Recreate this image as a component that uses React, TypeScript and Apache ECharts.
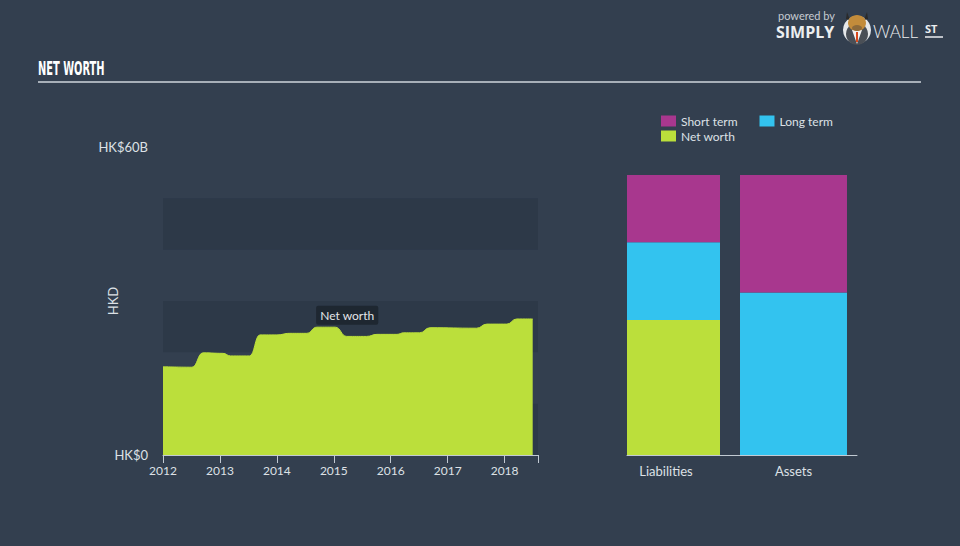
import React, { useEffect, useRef } from "react";
import * as echarts from "echarts";

// ---- data ----
const netWorthDates = [
  "2012-01-01", "2012-07-05", "2012-09-15", "2013-01-20", "2013-03-10", "2013-07-10",
  "2013-09-15", "2014-01-01", "2014-03-25", "2014-07-10", "2014-09-15", "2015-01-10",
  "2015-03-25", "2015-07-30", "2015-10-05", "2016-02-10", "2016-03-25", "2016-07-05",
  "2016-09-10", "2017-07-05", "2017-09-10", "2018-01-15", "2018-03-20", "2018-06-30",
];
const netWorthValues = [
  17.2, 17.1, 19.9, 19.8, 19.3, 19.3,
  23.4, 23.4, 23.7, 23.7, 24.9, 24.9,
  23.1, 23.1, 23.5, 23.5, 23.8, 23.8,
  24.8, 24.7, 25.5, 25.5, 26.5, 26.5,
];
const labelIndex = 11;
const axisStartDate = "2012-01-01";
const axisEndDate = "2018-08-03";
const yTickLabels: Record<number, string> = { 0: "HK$0", 60: "HK$60B" };

const balanceCategories = ["Liabilities", "Assets"];
const liabilitiesShortTerm = 13.2;
const liabilitiesLongTerm = 15.3;
const liabilitiesNetWorth = netWorthValues[netWorthValues.length - 1];
const assetsShortTerm = 23.1;
const assetsLongTerm = 31.9;

const legendRow1 = ["Short term", "Long term"];
const legendRow2 = ["Net worth"];

// ---- colours ----
const BG = "#333f4f";
const GREEN = "#bbdf3b";
const MAGENTA = "#a8378e";
const CYAN = "#33c3ef";
const BAND = "#2d3948";
const AXIS = "#c2cad3";
const TEXT = "#dde1e6";

function toYear(s: string): number {
  const [y, m, d] = s.split("-").map(Number);
  const start = Date.UTC(y, 0, 1);
  const end = Date.UTC(y + 1, 0, 1);
  return y + (Date.UTC(y, m - 1, d) - start) / (end - start);
}

export default function App() {
  const ref = useRef<HTMLDivElement>(null);

  useEffect(() => {
    document.body.style.margin = "0";
    if (!ref.current) return;
    const chart = echarts.init(ref.current, null, { renderer: "svg" });

    const areaData = netWorthDates.map((d, i) => [toYear(d), netWorthValues[i]]);

    const option: any = {
      animation: false,
      backgroundColor: BG,
      textStyle: { fontFamily: "Lato" },
      legend: [
        {
          data: legendRow1,
          left: 661,
          top: 115,
          padding: 0,
          itemWidth: 15,
          itemHeight: 11,
          itemGap: 22,
          icon: "rect",
          textStyle: { color: TEXT, fontSize: 12, fontFamily: "Lato" },
          selectedMode: false,
        },
        {
          data: legendRow2,
          left: 661,
          top: 130,
          padding: 0,
          itemWidth: 15,
          itemHeight: 11,
          icon: "rect",
          textStyle: { color: TEXT, fontSize: 12, fontFamily: "Lato" },
          selectedMode: false,
        },
      ],
      grid: [
        { left: 163, top: 147, width: 375, height: 308 },
        { left: 617, top: 175, width: 240, height: 280 },
        { left: 627, top: 175, width: 230, height: 280 },
      ],
      xAxis: [
        {
          type: "value",
          gridIndex: 0,
          min: toYear(axisStartDate),
          max: toYear(axisEndDate),
          interval: 1,
          axisLine: { show: true, lineStyle: { color: AXIS, width: 1 } },
          axisTick: { show: true, length: 8, lineStyle: { color: AXIS } },
          axisLabel: {
            color: TEXT,
            fontSize: 12,
            margin: 9,
            formatter: (v: number) => (Math.abs(v - Math.round(v)) < 1e-6 ? String(Math.round(v)) : ""),
          },
          splitLine: { show: false },
        },
        {
          type: "category",
          gridIndex: 1,
          data: balanceCategories,
          axisLine: { show: false },
          axisTick: { show: false },
          axisLabel: {
            margin: 9,
            formatter: (v: string) => (v === "Liabilities" ? "{l|" + v + "}" : "{a|" + v + "}"),
            rich: {
              l: { color: TEXT, fontSize: 13, fontFamily: "Lato", padding: [0, 22, 0, 0] },
              a: { color: TEXT, fontSize: 13, fontFamily: "Lato", padding: [0, 7, 0, 0] },
            },
          },
        },
        {
          type: "category",
          gridIndex: 2,
          data: balanceCategories,
          axisLine: { show: true, lineStyle: { color: AXIS, width: 1 } },
          axisTick: { show: false },
          axisLabel: { show: false },
        },
      ],
      yAxis: [
        {
          type: "value",
          gridIndex: 0,
          min: 0,
          max: 60,
          interval: 10,
          name: "HKD",
          nameLocation: "middle",
          nameGap: 44,
          nameMoveOverlap: false,
          nameTextStyle: { color: TEXT, fontSize: 13, fontFamily: "Lato" },
          axisLine: { show: false },
          axisTick: { show: false },
          axisLabel: {
            color: TEXT,
            fontSize: 13,
            margin: 15,
            formatter: (v: number) => yTickLabels[v] ?? "",
          },
          splitLine: { show: false },
          splitArea: { show: true, areaStyle: { color: [BAND, "rgba(0,0,0,0)"] } },
        },
        { type: "value", gridIndex: 1, min: 0, max: 55, show: false },
        { type: "value", gridIndex: 2, min: 0, max: 55, show: false },
      ],
      series: [
        {
          name: "Net worth",
          type: "line",
          xAxisIndex: 0,
          yAxisIndex: 0,
          data: areaData,
          smooth: 0.5,
          smoothMonotone: "x",
          symbol: "none",
          lineStyle: { color: GREEN, width: 1 },
          itemStyle: { color: GREEN },
          areaStyle: { color: GREEN, opacity: 1 },
          markPoint: {
            symbol: "rect",
            symbolSize: 1,
            itemStyle: { color: "rgba(0,0,0,0)" },
            label: {
              show: true,
              position: "top",
              distance: 2,
              offset: [12, 0],
              formatter: "Net worth",
              color: "#e4e6e9",
              fontSize: 12,
              fontFamily: "Lato",
              backgroundColor: "#1e2731",
              padding: [4, 4, 3, 4],
              borderRadius: 2,
            },
            data: [{ coord: areaData[labelIndex] }],
          },
        },
        {
          name: "Net worth",
          type: "bar",
          xAxisIndex: 1,
          yAxisIndex: 1,
          stack: "L",
          barWidth: 93,
          barGap: "-107.53%",
          data: [liabilitiesNetWorth, "-"],
          itemStyle: { color: GREEN },
        },
        {
          name: "Long term",
          type: "bar",
          xAxisIndex: 1,
          yAxisIndex: 1,
          stack: "L",
          barWidth: 93,
          barGap: "-107.53%",
          data: [liabilitiesLongTerm, "-"],
          itemStyle: { color: CYAN },
        },
        {
          name: "Short term",
          type: "bar",
          xAxisIndex: 1,
          yAxisIndex: 1,
          stack: "L",
          barWidth: 93,
          barGap: "-107.53%",
          data: [liabilitiesShortTerm, "-"],
          itemStyle: { color: MAGENTA },
        },
        {
          name: "Long term",
          type: "bar",
          xAxisIndex: 1,
          yAxisIndex: 1,
          stack: "A",
          barWidth: 107,
          barGap: "-107.53%",
          data: ["-", assetsLongTerm],
          itemStyle: { color: CYAN },
        },
        {
          name: "Short term",
          type: "bar",
          xAxisIndex: 1,
          yAxisIndex: 1,
          stack: "A",
          barWidth: 107,
          barGap: "-107.53%",
          data: ["-", assetsShortTerm],
          itemStyle: { color: MAGENTA },
        },
      ],
      graphic: [
        {
          type: "text",
          x: 38,
          y: 59,
          scaleX: 0.52,
          style: {
            text: "NET WORTH",
            fill: "#ffffff",
            font: 'bold 19px "DejaVu Sans"',
            textVerticalAlign: "top",
          },
        },
        {
          type: "line",
          shape: { x1: 38, y1: 82, x2: 921, y2: 82 },
          style: { stroke: "#a7afb8", lineWidth: 2 },
        },
        {
          type: "text",
          x: 778,
          y: 10,
          style: { text: "powered by", fill: "#c6cbd1", font: '11px "Lato"', textVerticalAlign: "top" },
        },
        {
          type: "text",
          x: 776,
          y: 24,
          style: { text: "SIMPLY", fill: "#eceef0", font: 'bold 16px "Open Sans"', textVerticalAlign: "top" },
        },
        { type: "circle", shape: { cx: 857, cy: 30, r: 14 }, style: { fill: "#e6e8ea" } },
        { type: "circle", shape: { cx: 857, cy: 34, r: 11 }, style: { fill: "#4a4f56" } },
        { type: "polygon", shape: { points: [[852, 30], [862, 30], [857, 44]] }, style: { fill: "#f2f2f2" } },
        { type: "line", shape: { x1: 857, y1: 32, x2: 857, y2: 42 }, style: { stroke: "#d9481c", lineWidth: 2 } },
        { type: "polygon", shape: { points: [[847, 12], [850, 20], [846, 19]] }, style: { fill: "#2a2a2a" } },
        { type: "polygon", shape: { points: [[867, 12], [864, 20], [868, 19]] }, style: { fill: "#2a2a2a" } },
        { type: "ellipse", shape: { cx: 857, cy: 23, rx: 9, ry: 8 }, style: { fill: "#c38c3b" } },
        { type: "ellipse", shape: { cx: 857, cy: 28, rx: 5, ry: 3 }, style: { fill: "#8d6a3a" } },
        {
          type: "text",
          x: 873,
          y: 23,
          style: { text: "WALL", fill: "#eceef0", font: '300 17px "Lato"', textVerticalAlign: "top" },
        },
        {
          type: "text",
          x: 925,
          y: 23,
          style: { text: "ST", fill: "#eceef0", font: 'bold 11px "Open Sans"', textVerticalAlign: "top" },
        },
        {
          type: "line",
          shape: { x1: 925, y1: 37, x2: 943, y2: 37 },
          style: { stroke: "#eceef0", lineWidth: 1.5 },
        },
      ],
    };

    chart.setOption(option);
    return () => chart.dispose();
  }, []);

  return (
    <div
      ref={ref}
      style={{ position: "absolute", left: 0, top: 0, width: 960, height: 546, background: BG }}
    />
  );
}
